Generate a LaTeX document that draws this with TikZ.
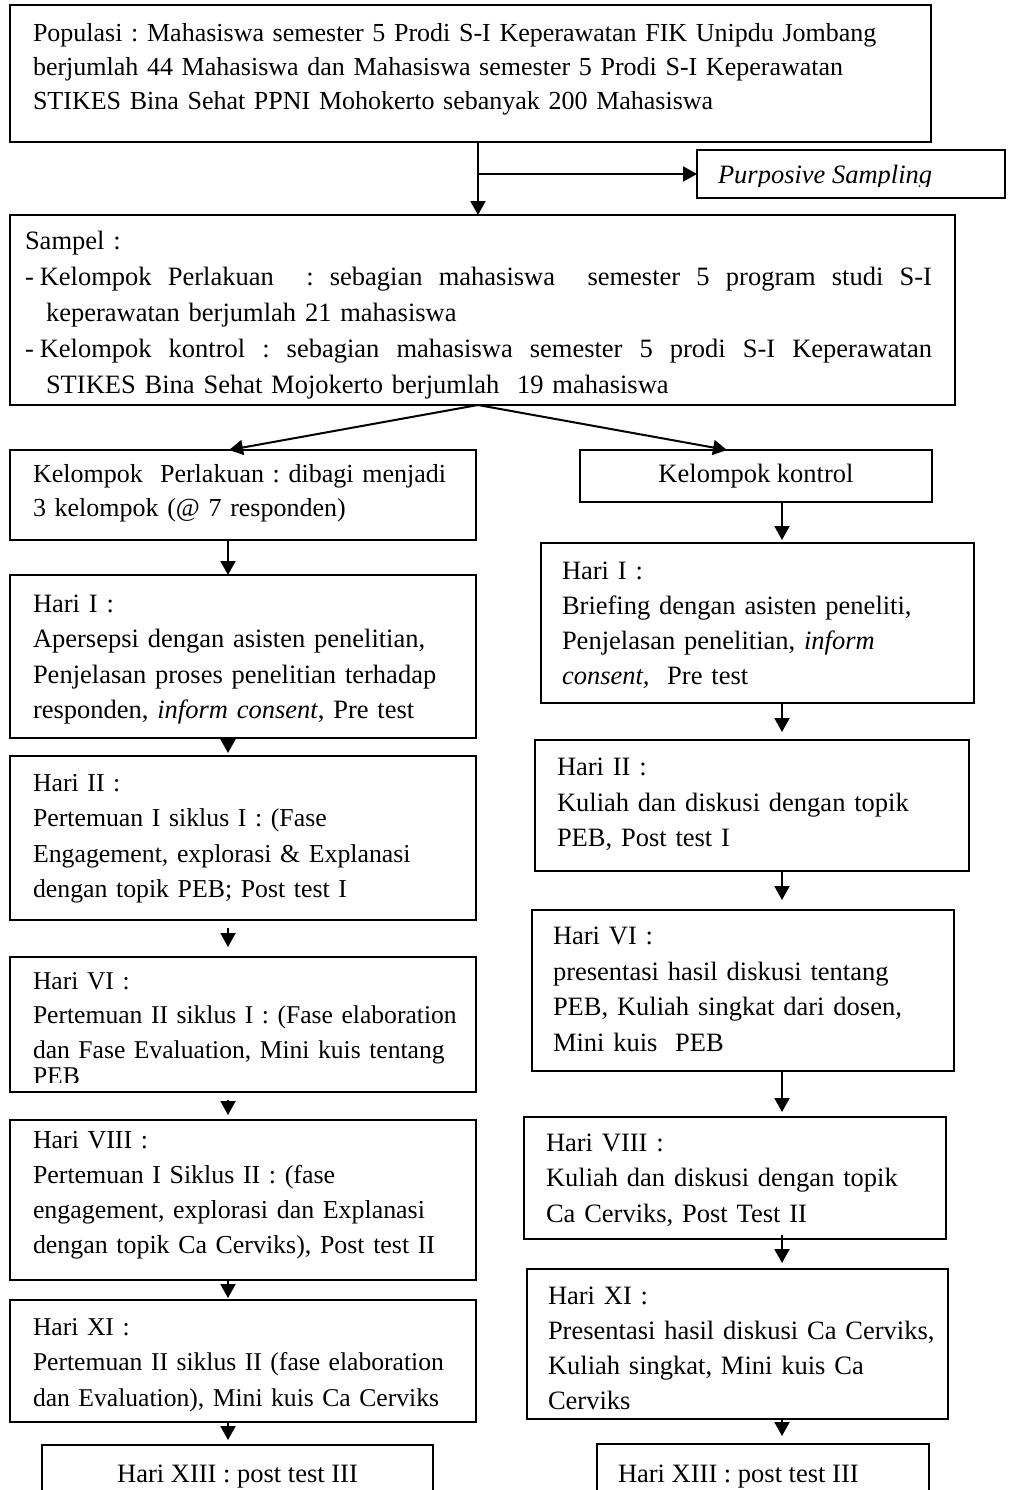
\documentclass[tikz,border=0pt]{standalone}
\usepackage{fontspec}
\setmainfont{Liberation Serif}
\usetikzlibrary{arrows.meta,calc}
\frenchspacing
\newcommand\justline[1]{\leavevmode\hbox to 907pt{\spaceskip=0.25em plus 1fil\relax #1}}
\begin{document}
\begin{tikzpicture}[x=1pt,y=-1pt,
  every node/.style={font=\fontsize{26.5}{35.5}\selectfont},
  box/.style={draw, line width=2pt, rectangle, inner sep=0pt, outer sep=0pt, anchor=north west},
  txt/.style={anchor=base west, inner sep=0pt, outer sep=0pt, align=left},
  arr/.style={line width=2pt, -{Triangle[length=14pt,width=15pt]}}]
\clip (0,0) rectangle (1010,1490);
\fill[white] (0,0) rectangle (1010,1490);
% top
\node[box, minimum width=921pt, minimum height=137pt] (pop) at (10,5) {};
\node[txt, text width=890pt, font=\fontsize{26}{34}\selectfont] (popt) at (33,42) {Populasi : Mahasiswa semester 5 Prodi S-I Keperawatan FIK Unipdu Jombang\\berjumlah 44 Mahasiswa dan Mahasiswa semester 5 Prodi S-I Keperawatan\\STIKES Bina Sehat PPNI Mohokerto sebanyak 200 Mahasiswa};
\node[box, minimum width=308pt, minimum height=48pt] (purp) at (697,150) {};
\begin{scope}
\clip (697,150) rectangle (1005,187);
\node[txt] (purpt) at (718,183) {\itshape Purposive Sampling};
\end{scope}
\node[box, minimum width=945pt, minimum height=190pt] (sam) at (10,215) {};
\node[txt, text width=907pt, font=\fontsize{26.5}{36}\selectfont] (samt) at (25,249) {Sampel :\\
\justline{-\hspace{6pt}Kelompok Perlakuan\ \ : sebagian mahasiswa\ \ semester 5 program studi S-I}\\
\hspace*{21pt}keperawatan berjumlah 21 mahasiswa\\
\justline{-\hspace{6pt}Kelompok kontrol : sebagian mahasiswa semester 5 prodi S-I Keperawatan}\\
\hspace*{21pt}STIKES Bina Sehat Mojokerto berjumlah\ \ 19 mahasiswa};
% second level
\node[box, minimum width=466pt, minimum height=90pt] (kp) at (10,450) {};
\node[txt, text width=440pt, font=\fontsize{26}{34}\selectfont] (kpt) at (33,482) {Kelompok\ \ Perlakuan : dibagi menjadi\\3 kelompok (@ 7 responden)};
\node[box, minimum width=352pt, minimum height=52pt] (kk) at (580,450) {};
\node[inner sep=0pt] (kkt) at (kk.center) {Kelompok kontrol};
% left column
\node[box, minimum width=466pt, minimum height=163pt] (lh1) at (10,575) {};
\node[txt, text width=440pt] (lh1t) at (33,612) {Hari I :\\Apersepsi dengan asisten penelitian,\\Penjelasan proses penelitian terhadap\\responden, \textit{inform consent}, Pre test};
\node[box, minimum width=466pt, minimum height=164pt] (lh2) at (10,756) {};
\node[txt, text width=440pt, font=\fontsize{25.8}{35.5}\selectfont] (lh2t) at (33,791) {Hari II :\\Pertemuan I siklus I : (Fase\\Engagement, explorasi \& Explanasi\\dengan topik PEB; Post test I};
\node[box, minimum width=466pt, minimum height=135pt] (lh6) at (10,957) {};
\begin{scope}
\clip (10,957) rectangle (476,1082);
\node[txt, text width=440pt, font=\fontsize{25.6}{34.5}\selectfont] (lh6t) at (33,989) {Hari VI :\\Pertemuan II siklus I : (Fase elaboration\\dan Fase Evaluation, Mini kuis tentang\\[-8pt]PEB};
\end{scope}
\node[box, minimum width=466pt, minimum height=160pt] (lh8) at (10,1120) {};
\node[txt, text width=440pt, font=\fontsize{25.9}{35}\selectfont] (lh8t) at (33,1148) {Hari VIII :\\Pertemuan I Siklus II : (fase\\engagement, explorasi dan Explanasi\\dengan topik Ca Cerviks), Post test II};
\node[box, minimum width=466pt, minimum height=122pt] (lh11) at (10,1300) {};
\node[txt, text width=440pt, font=\fontsize{25.6}{35.5}\selectfont] (lh11t) at (33,1335) {Hari XI :\\Pertemuan II siklus II (fase elaboration\\dan Evaluation), Mini kuis Ca Cerviks};
\node[box, minimum width=391pt, minimum height=60pt] (lh13) at (42,1445) {};
\node[inner sep=0pt, anchor=base] (lh13t) at (237.5,1482) {Hari XIII : post test III};
% right column
\node[box, minimum width=433pt, minimum height=160pt] (rh1) at (541,543) {};
\node[txt, text width=410pt, font=\fontsize{26.5}{35}\selectfont] (rh1t) at (562,579) {Hari I :\\Briefing dengan asisten peneliti,\\Penjelasan penelitian, \textit{inform}\\\textit{consent,}\ \ Pre test};
\node[box, minimum width=434pt, minimum height=131pt] (rh2) at (535,740) {};
\node[txt, text width=410pt] (rh2t) at (557,775.5) {Hari II :\\Kuliah dan diskusi dengan topik\\PEB, Post test I};
\node[box, minimum width=422pt, minimum height=161pt] (rh6) at (532,910) {};
\node[txt, text width=400pt] (rh6t) at (553,944.5) {Hari VI :\\presentasi hasil diskusi tentang\\PEB, Kuliah singkat dari dosen,\\Mini kuis\ \ PEB};
\node[box, minimum width=422pt, minimum height=122pt] (rh8) at (524,1117) {};
\node[txt, text width=400pt] (rh8t) at (546,1151) {Hari VIII :\\Kuliah dan diskusi dengan topik\\Ca Cerviks, Post Test II};
\node[box, minimum width=421pt, minimum height=150pt] (rh11) at (527,1269) {};
\node[txt, text width=400pt, font=\fontsize{26.5}{35}\selectfont] (rh11t) at (548,1304) {Hari XI :\\Presentasi hasil diskusi Ca Cerviks,\\Kuliah singkat, Mini kuis Ca\\Cerviks};
\node[box, minimum width=332pt, minimum height=60pt] (rh13) at (597,1444) {};
\node[txt] (rh13t) at (618,1482) {Hari XIII : post test III};
% connectors
\coordinate (cx) at (478,0);
\coordinate (lx) at (228,0);
\coordinate (rx) at (782,0);
\coordinate (lt) at (229,0);
\coordinate (rt) at (727,0);
\draw[arr] (pop.south -| cx) -- (sam.north -| cx);
\coordinate (br) at (cx |- purp.west);
\draw[arr] (br) -- (purp.west);
\coordinate (sp) at (sam.south -| cx);
\draw[arr] (sp) -- (kp.north -| lt);
\draw[arr] (sp) -- (kk.north -| rt);
\draw[arr] (kp.south -| lx) -- (lh1.north -| lx);
\draw[arr, shorten >=3pt] (lh1.south -| lx) -- (lh2.north -| lx);
\draw[arr, shorten <=8pt, shorten >=10pt] (lh2.south -| lx) -- (lh6.north -| lx);
\draw[arr, shorten <=8pt, shorten >=5pt] (lh6.south -| lx) -- (lh8.north -| lx);
\draw[arr, shorten >=2pt] (lh8.south -| lx) -- (lh11.north -| lx);
\draw[arr, shorten >=5pt] (lh11.south -| lx) -- (lh13.north -| lx);
\draw[arr, shorten >=3pt] (kk.south -| rx) -- (rh1.north -| rx);
\draw[arr, shorten >=8pt] (rh1.south -| rx) -- (rh2.north -| rx);
\draw[arr, shorten >=10pt] (rh2.south -| rx) -- (rh6.north -| rx);
\draw[arr, shorten >=5pt] (rh6.south -| rx) -- (rh8.north -| rx);
\draw[arr, shorten <=-4pt, shorten >=6pt] (rh8.south -| rx) -- (rh11.north -| rx);
\draw[arr, shorten >=8pt] (rh11.south -| rx) -- (rh13.north -| rx);
\end{tikzpicture}
\end{document}
